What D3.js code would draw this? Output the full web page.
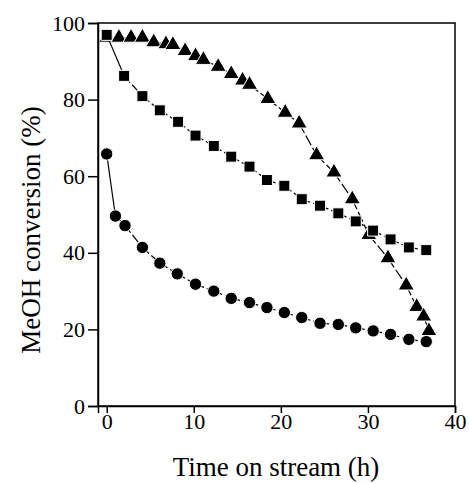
<!DOCTYPE html>
<html>
<head>
<meta charset="utf-8">
<script src="https://cdn.jsdelivr.net/npm/d3@7"></script>
<style>
  body { margin: 0; background: #fff; }
  svg text { font-family: "Liberation Serif", "Times New Roman", serif; fill: #000; }
</style>
</head>
<body>
<svg id="chart" width="469" height="483"></svg>
<script>
// values
const triangleTime = [0, 1.4, 2.8, 4.1, 5.4, 6.8, 7.6, 9.0, 10.2, 11.1, 12.8, 14.3, 15.6, 16.4, 18.5, 20.5, 22.1, 24.1, 26.1, 28.2, 30.1, 32.3, 34.4, 35.6, 36.4, 37.0];
const triangleConv = [96.2, 96.2, 96.2, 96.2, 95.0, 94.5, 94.3, 92.7, 91.4, 90.4, 88.6, 86.7, 85.0, 83.9, 80.2, 76.6, 73.8, 65.5, 61.0, 54.0, 44.7, 38.6, 31.5, 25.9, 23.4, 19.6];

const squareTime = [0, 2.0, 4.1, 6.1, 8.2, 10.2, 12.3, 14.3, 16.4, 18.4, 20.4, 22.4, 24.5, 26.6, 28.6, 30.6, 32.6, 34.7, 36.7];
const squareConv = [96.9, 86.2, 80.9, 77.2, 74.2, 70.6, 67.9, 65.1, 62.5, 59.0, 57.5, 54.0, 52.3, 50.3, 48.2, 45.8, 43.5, 41.4, 40.7];

const circleTime = [0, 1.0, 2.1, 4.1, 6.1, 8.1, 10.2, 12.3, 14.3, 16.4, 18.4, 20.4, 22.4, 24.5, 26.6, 28.6, 30.6, 32.6, 34.7, 36.7];
const circleConv = [65.8, 49.6, 47.1, 41.4, 37.3, 34.5, 31.8, 30.0, 28.1, 27.0, 25.7, 24.4, 23.1, 21.6, 21.3, 20.4, 19.6, 18.7, 17.4, 16.8];

const xTicks = [0, 10, 20, 30, 40];
const yTicks = [0, 20, 40, 60, 80, 100];

const svg = d3.select('#chart');
const plotL = 98, plotR = 455, plotT = 23, plotB = 406;

const x = d3.scaleLinear().domain([-1, 40]).range([plotL, plotR]);
const y = d3.scaleLinear().domain([0, 100]).range([plotB, plotT]);

const series = [
  { time: triangleTime, conv: triangleConv, symbol: d3.symbolTriangle, size: 112, dash: '11,3' },
  { time: squareTime, conv: squareConv, symbol: d3.symbolSquare, size: 121, dash: '9,3' },
  { time: circleTime, conv: circleConv, symbol: d3.symbolCircle, size: 120, dash: '9,3' }
];

series.forEach(s => {
  const pts = s.time.map((t, i) => [x(t), y(s.conv[i])]);
  const segs = d3.pairs(pts);

  svg.append('g')
    .selectAll('line')
    .data(segs)
    .join('line')
      .attr('x1', d => d[0][0])
      .attr('y1', d => d[0][1])
      .attr('x2', d => d[1][0])
      .attr('y2', d => d[1][1])
      .attr('stroke', '#000')
      .attr('stroke-width', 1.2)
      // long segments come out solid in the original
      .attr('stroke-dasharray', d => Math.hypot(d[1][0] - d[0][0], d[1][1] - d[0][1]) > 40 ? null : s.dash);

  svg.append('g')
    .selectAll('path')
    .data(pts)
    .join('path')
      .attr('transform', d => `translate(${d[0]},${d[1]})`)
      .attr('d', d3.symbol().type(s.symbol).size(s.size))
      .attr('fill', '#000')
      .attr('stroke', '#fff')
      .attr('stroke-width', 1);
});

// frame
svg.append('rect')
  .attr('x', plotL)
  .attr('y', plotT)
  .attr('width', plotR - plotL)
  .attr('height', plotB - plotT)
  .attr('fill', 'none')
  .attr('stroke', '#000')
  .attr('stroke-width', 1.5);

const xAxis = svg.append('g')
  .attr('transform', `translate(0,${plotB})`)
  .call(d3.axisBottom(x).tickValues(xTicks).tickSize(7).tickPadding(0));

const yAxis = svg.append('g')
  .attr('transform', `translate(${plotL},0)`)
  .call(d3.axisLeft(y).tickValues(yTicks).tickSize(10).tickPadding(3));

[xAxis, yAxis].forEach(g => {
  g.select('.domain').attr('stroke-width', 1.5);
  g.selectAll('.tick line').attr('stroke-width', 1.5);
  g.selectAll('text')
    .style('font-family', '"Liberation Serif", serif')
    .style('font-size', '22px');
});

svg.append('text')
  .attr('x', 276)
  .attr('y', 476)
  .attr('text-anchor', 'middle')
  .style('font-size', '27px')
  .text('Time on stream (h)');

svg.append('text')
  .attr('transform', 'translate(40,230) rotate(-90)')
  .attr('text-anchor', 'middle')
  .style('font-size', '27px')
  .text('MeOH conversion (%)');
</script>
</body>
</html>
